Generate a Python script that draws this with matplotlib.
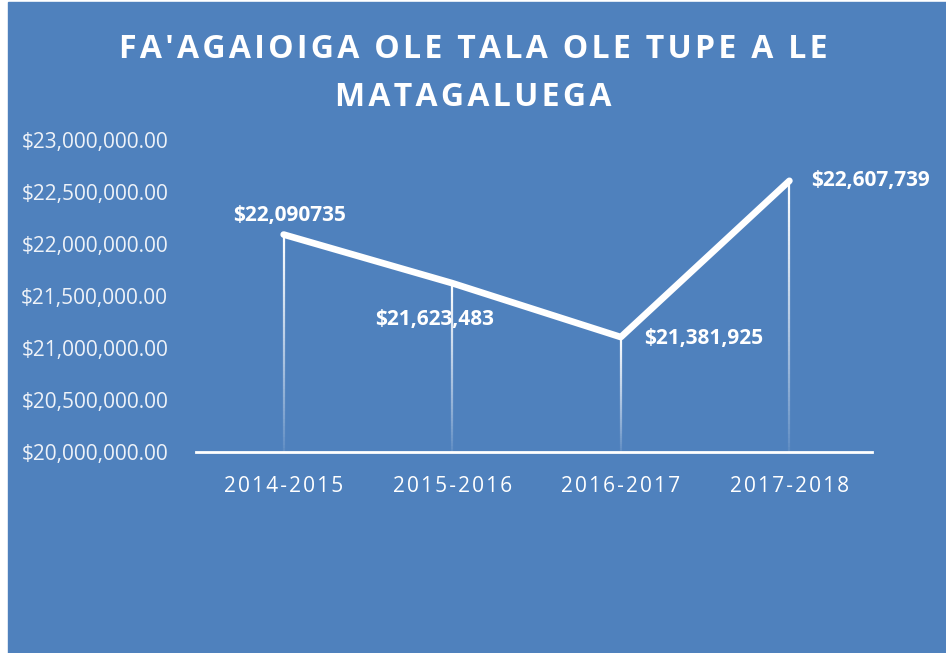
import matplotlib.pyplot as plt
import numpy as np
from matplotlib.collections import LineCollection
from matplotlib.ticker import FuncFormatter

years = ["2014-2015", "2015-2016", "2016-2017", "2017-2018"]
values = [22090735, 21623483, 21105000, 22607739]
point_labels = ["$22,090735", "$21,623,483", "$21,381,925", "$22,607,739"]
yticks = [20000000, 20500000, 21000000, 21500000, 22000000, 22500000, 23000000]

BG = "#4f81bd"
FONT = ["Open Sans", "DejaVu Sans"]
HAIR = "\u200a"


def spaced(s):
    # rough letter spacing, like the original chart
    return HAIR.join(s)


fig = plt.figure(figsize=(9.46, 6.53), dpi=100)
fig.patch.set_facecolor("white")
# blue panel, small white margin on left and top
fig.add_artist(plt.Rectangle((8 / 946, 0), 1, 1 - 2 / 653,
                             transform=fig.transFigure, color=BG, zorder=-10))

ax = fig.add_axes([196 / 946, 201 / 653, 676 / 946, 312 / 653])
ax.set_facecolor("none")
ax.set_zorder(1)
x = np.arange(len(years))
ax.set_xlim(-0.52, 3.49)
ax.set_ylim(yticks[0], yticks[-1])

# drop lines fading downward
for xi, v in zip(x, values):
    ys = np.linspace(yticks[0], v, 60)
    segs = [[(xi, ys[i]), (xi, ys[i + 1])] for i in range(len(ys) - 1)]
    alphas = np.linspace(0.05, 1.0, len(segs)) ** 0.8
    colors = [(1, 1, 1, a) for a in alphas]
    ax.add_collection(LineCollection(segs, colors=colors, linewidths=1.6, zorder=2))

ax.plot(x, values, color="white", lw=4.8, solid_capstyle="round",
        solid_joinstyle="round", zorder=3)

offsets = [(4, 14, "center"), (-13, -26, "center"),
           (17, -1, "left"), (16, 0, "left")]
for xi, v, lab, (dx, dy, ha) in zip(x, values, point_labels, offsets):
    ax.annotate(lab, (xi, v), xytext=(dx, dy), textcoords="offset points",
                ha=ha, va="center", color="white", fontsize=15,
                fontweight="bold", family=FONT)

ax.set_yticks(yticks)
ax.yaxis.set_major_formatter(FuncFormatter(lambda v, p: f"${v:,.2f}"))
ax.set_xticks(x)
ax.set_xticklabels([spaced(y) for y in years])
for lbl in ax.get_xticklabels():
    lbl.set_family(FONT)
    lbl.set_fontsize(15)
    lbl.set_color("white")
for lbl in ax.get_yticklabels():
    lbl.set_family(FONT)
    lbl.set_fontsize(15)
    lbl.set_color("#eef2f8")
ax.tick_params(axis="y", length=0, pad=20)
ax.tick_params(axis="x", length=0, pad=17)
for s in ["top", "right", "left"]:
    ax.spines[s].set_visible(False)
ax.spines["bottom"].set_color("white")
ax.spines["bottom"].set_linewidth(2)

fig.text(0.5, 1 - 50 / 653, spaced("FA'AGAIOIGA OLE TALA OLE TUPE A LE"),
         ha="center", va="center", color="white", fontsize=23,
         fontweight="bold", family=FONT)
fig.text(0.5, 1 - 97 / 653, spaced("MATAGALUEGA"), ha="center", va="center",
         color="white", fontsize=23, fontweight="bold", family=FONT)

fig.savefig("out.png", dpi=100, facecolor=fig.get_facecolor())
